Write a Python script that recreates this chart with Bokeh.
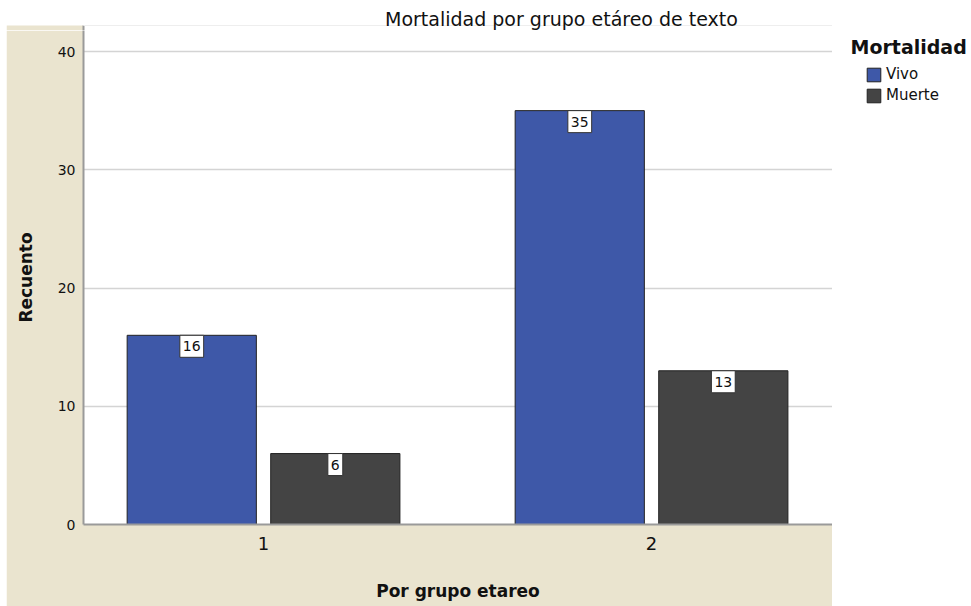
from bokeh.plotting import figure
from bokeh.layouts import row, column
from bokeh.models import (Range1d, FixedTicker, Legend, LegendItem, ColumnDataSource, Spacer)
from bokeh.core.properties import value
from bokeh.embed import file_html
from bokeh.resources import INLINE

# ---- data ----
groups = [1, 2]
group_labels = ["1", "2"]
series = ["Vivo", "Muerte"]
vivo = [16, 35]
muerte = [6, 13]
y_ticks = [0, 10, 20, 30, 40]

title_text = "Mortalidad por grupo etáreo  de texto"
x_title = "Por grupo etareo"
y_title = "Recuento"
legend_title = "Mortalidad"

# ---- style ----
FONT = "DejaVu Sans"
BEIGE = "#EAE4CF"
BLUE = "#3E58A8"
DARK = "#444444"
EDGE = "#222222"
TXT = "#111111"
AXIS = "#9a9a9a"

W, H = 971, 606
LEFT_PAD = 6
MAIN_W = 826
TITLE_H = 30          # white strip + 5px of the chart's top
TOP_EXTRA = 5
LEG_W = W - LEFT_PAD - MAIN_W
MAIN_H = H - TITLE_H
ML, MB = 77, 82
fw, fh = MAIN_W - ML, MAIN_H - MB

x0, x1 = 0.536, 0.536 + fw / 388.0
y0, y1 = 0.0, 40.0 * fh / 473.0


def blank(w, h):
    f = figure(width=w, height=h, output_backend="svg", toolbar_location=None,
               x_range=Range1d(0, w), y_range=Range1d(0, h),
               min_border=0, background_fill_color="white", border_fill_color="white")
    f.axis.visible = False
    f.grid.visible = False
    f.outline_line_color = None
    f.frame_align = False
    return f


# ---- main chart ----
p = figure(width=MAIN_W, height=MAIN_H, output_backend="svg", toolbar_location=None,
           x_range=Range1d(x0, x1), y_range=Range1d(y0, y1),
           min_border_left=ML, min_border_right=0, min_border_top=0, min_border_bottom=MB,
           background_fill_color="white", border_fill_color=BEIGE)
p.outline_line_color = None
p.frame_align = False

off = 0.185
bw = 0.333
src_v = ColumnDataSource(dict(x=[g - off for g in groups], top=vivo, lab=[str(v) for v in vivo]))
src_m = ColumnDataSource(dict(x=[g + off for g in groups], top=muerte, lab=[str(v) for v in muerte]))
p.vbar(x="x", top="top", width=bw, bottom=0, source=src_v, fill_color=BLUE, line_color=EDGE, line_width=1)
p.vbar(x="x", top="top", width=bw, bottom=0, source=src_m, fill_color=DARK, line_color=EDGE, line_width=1)

for src in (src_v, src_m):
    p.text(x="x", y="top", text="lab", source=src, text_align="center", text_baseline="top",
           text_font=value(FONT), text_font_size="14px", text_color=TXT, y_offset=0,
           background_fill_color="white", border_line_color="#333333", border_line_width=1,
           padding=(3, 6))

p.xgrid.visible = False
p.ygrid.grid_line_color = "#d4d4d4"
p.ygrid.grid_line_width = 1.5
p.ygrid.ticker = FixedTicker(ticks=y_ticks)

p.xaxis.ticker = FixedTicker(ticks=groups)
p.xaxis.major_label_overrides = {g: l for g, l in zip(groups, group_labels)}
p.yaxis.ticker = FixedTicker(ticks=y_ticks)

for ax in (p.xaxis[0], p.yaxis[0]):
    ax.axis_line_color = AXIS
    ax.axis_line_width = 2
    ax.major_tick_line_color = None
    ax.minor_tick_line_color = None
    ax.major_tick_out = 0
    ax.major_tick_in = 0
    ax.major_label_text_font = FONT
    ax.major_label_text_color = TXT
    ax.axis_label_text_font = FONT
    ax.axis_label_text_font_style = "bold"
    ax.axis_label_text_color = TXT
    ax.axis_label_text_font_size = "17px"

p.yaxis.major_label_text_font_size = "14px"
p.yaxis.major_label_standoff = 8
p.yaxis.axis_label = y_title
p.yaxis.axis_label_standoff = 19

p.xaxis.major_label_text_font_size = "18px"
p.xaxis.major_label_standoff = 12
p.xaxis.axis_label = x_title
p.xaxis.axis_label_standoff = 28

# ---- title strip (also carries the top 5px of the chart area) ----
t = blank(MAIN_W, TITLE_H)
t.quad(left=[0], right=[ML], bottom=[0], top=[TOP_EXTRA], fill_color=BEIGE, line_color=None)
t.segment(x0=[ML], y0=[0], x1=[ML], y1=[TOP_EXTRA], line_color=AXIS, line_width=2)
t.segment(x0=[ML], y0=[TOP_EXTRA], x1=[MAIN_W], y1=[TOP_EXTRA], line_color="#eeeeee", line_width=1)
t.text(x=[564 - LEFT_PAD], y=[TITLE_H - 18.5], text=[title_text], text_align="center",
       text_baseline="middle", text_font=value(FONT), text_font_size="19px", text_color=TXT)

# ---- legend strip ----
lg = blank(LEG_W, H)
lg.text(x=[850 - LEFT_PAD - MAIN_W], y=[H - 46], text=[legend_title], text_align="left",
        text_baseline="middle", text_font=value(FONT), text_font_size="19px",
        text_font_style="bold", text_color=TXT)
gv = lg.vbar(x=groups, top=vivo, width=0.3, fill_color=BLUE, line_color=EDGE, line_width=1, visible=False)
gm = lg.vbar(x=groups, top=muerte, width=0.3, fill_color=DARK, line_color=EDGE, line_width=1, visible=False)
legend = Legend(items=[LegendItem(label=series[0], renderers=[gv]),
                       LegendItem(label=series[1], renderers=[gm])],
                location=(865 - LEFT_PAD - MAIN_W, H - 104),
                background_fill_alpha=0, border_line_color=None,
                padding=0, margin=0, spacing=3, glyph_width=17, glyph_height=17,
                label_height=17, label_standoff=4,
                label_text_font=FONT, label_text_font_size="15px", label_text_color=TXT)
lg.add_layout(legend, "center")

layout = row(Spacer(width=LEFT_PAD, height=H), column(t, p, spacing=0), lg, spacing=0)

open("out.html", "w").write(file_html(layout, INLINE))
